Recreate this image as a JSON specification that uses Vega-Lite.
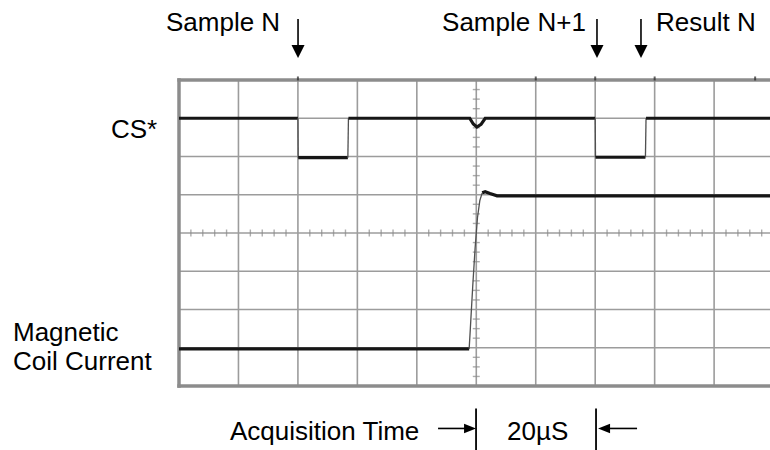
{
  "$schema": "https://vega.github.io/schema/vega-lite/v6.json",
  "width": 591,
  "height": 306,
  "autosize": {"type": "none"},
  "padding": {"left": 179, "top": 80, "right": 0, "bottom": 64},
  "background": "white",
  "config": {"view": {"stroke": null}, "text": {"font": "Liberation Sans"}, "axis": {"disable": true}},
  "datasets": {
    "trace": [
      {"signal": "CS*", "seg": "c1", "phase": "level", "t": 0, "v": 7.0},
      {"signal": "CS*", "seg": "c1", "phase": "level", "t": 20.0, "v": 7.0},
      {"signal": "CS*", "seg": "c2", "phase": "edge", "t": 20.0, "v": 7.0},
      {"signal": "CS*", "seg": "c2", "phase": "edge", "t": 20.05, "v": 5.97},
      {"signal": "CS*", "seg": "c3", "phase": "level", "t": 20.05, "v": 5.97},
      {"signal": "CS*", "seg": "c3", "phase": "level", "t": 28.4, "v": 5.97},
      {"signal": "CS*", "seg": "c4", "phase": "edge", "t": 28.4, "v": 5.97},
      {"signal": "CS*", "seg": "c4", "phase": "edge", "t": 28.5, "v": 7.0},
      {"signal": "CS*", "seg": "c5", "phase": "level", "t": 28.5, "v": 7.0},
      {"signal": "CS*", "seg": "c5", "phase": "level", "t": 48.9, "v": 7.0},
      {"signal": "CS*", "seg": "c5", "phase": "level", "t": 49.5, "v": 6.85},
      {"signal": "CS*", "seg": "c5", "phase": "level", "t": 50.1, "v": 6.77},
      {"signal": "CS*", "seg": "c5", "phase": "level", "t": 50.8, "v": 6.84},
      {"signal": "CS*", "seg": "c5", "phase": "level", "t": 51.5, "v": 7.0},
      {"signal": "CS*", "seg": "c5", "phase": "level", "t": 70.0, "v": 7.0},
      {"signal": "CS*", "seg": "c6", "phase": "edge", "t": 70.0, "v": 7.0},
      {"signal": "CS*", "seg": "c6", "phase": "edge", "t": 70.05, "v": 5.98},
      {"signal": "CS*", "seg": "c7", "phase": "level", "t": 70.05, "v": 5.98},
      {"signal": "CS*", "seg": "c7", "phase": "level", "t": 78.45, "v": 5.98},
      {"signal": "CS*", "seg": "c8", "phase": "edge", "t": 78.45, "v": 5.98},
      {"signal": "CS*", "seg": "c8", "phase": "edge", "t": 78.55, "v": 7.0},
      {"signal": "CS*", "seg": "c9", "phase": "level", "t": 78.55, "v": 7.0},
      {"signal": "CS*", "seg": "c9", "phase": "level", "t": 99.4, "v": 7.0},
      {"signal": "Coil", "seg": "m1", "phase": "level", "t": 0, "v": 0.97},
      {"signal": "Coil", "seg": "m1", "phase": "level", "t": 48.8, "v": 0.97},
      {"signal": "Coil", "seg": "m2", "phase": "edge", "t": 48.8, "v": 0.97},
      {"signal": "Coil", "seg": "m2", "phase": "edge", "t": 49.0, "v": 1.5},
      {"signal": "Coil", "seg": "m2", "phase": "edge", "t": 49.4, "v": 2.6},
      {"signal": "Coil", "seg": "m2", "phase": "edge", "t": 49.8, "v": 3.6},
      {"signal": "Coil", "seg": "m2", "phase": "edge", "t": 50.2, "v": 4.4},
      {"signal": "Coil", "seg": "m2", "phase": "edge", "t": 50.6, "v": 4.85},
      {"signal": "Coil", "seg": "m2", "phase": "edge", "t": 51.0, "v": 5.05},
      {"signal": "Coil", "seg": "m3", "phase": "level", "t": 51.0, "v": 5.05},
      {"signal": "Coil", "seg": "m3", "phase": "level", "t": 51.5, "v": 5.08},
      {"signal": "Coil", "seg": "m3", "phase": "level", "t": 52.3, "v": 5.03},
      {"signal": "Coil", "seg": "m3", "phase": "level", "t": 53.5, "v": 4.97},
      {"signal": "Coil", "seg": "m3", "phase": "level", "t": 99.4, "v": 4.97}
    ],
    "labels": [
      {"label": "Sample N", "t": -2.19, "v": 9.28},
      {"label": "Sample N+1", "t": 44.24, "v": 9.28},
      {"label": "Result N", "t": 80.24, "v": 9.28},
      {"label": "CS*", "t": -11.44, "v": 6.48},
      {"label": "Magnetic", "t": -27.92, "v": 1.17},
      {"label": "Coil Current", "t": -27.92, "v": 0.41},
      {"label": "Acquisition Time", "t": 8.58, "v": -1.424},
      {"label": "20µS", "t": 55.17, "v": -1.424}
    ],
    "vgrid": [{"t": 10}, {"t": 20}, {"t": 30}, {"t": 40}, {"t": 50}, {"t": 60}, {"t": 70}, {"t": 80}, {"t": 90}],
    "hgrid": [{"v": 1}, {"v": 2}, {"v": 3}, {"v": 4}, {"v": 5}, {"v": 6}, {"v": 7}],
    "xticks": [
      {"t": 2}, {"t": 4}, {"t": 6}, {"t": 8}, {"t": 12}, {"t": 14}, {"t": 16}, {"t": 18},
      {"t": 22}, {"t": 24}, {"t": 26}, {"t": 28}, {"t": 32}, {"t": 34}, {"t": 36}, {"t": 38},
      {"t": 42}, {"t": 44}, {"t": 46}, {"t": 48}, {"t": 52}, {"t": 54}, {"t": 56}, {"t": 58},
      {"t": 62}, {"t": 64}, {"t": 66}, {"t": 68}, {"t": 72}, {"t": 74}, {"t": 76}, {"t": 78},
      {"t": 82}, {"t": 84}, {"t": 86}, {"t": 88}, {"t": 92}, {"t": 94}, {"t": 96}, {"t": 98}
    ],
    "yticks": [
      {"v": 0.25}, {"v": 0.5}, {"v": 0.75}, {"v": 1.25}, {"v": 1.5}, {"v": 1.75},
      {"v": 2.25}, {"v": 2.5}, {"v": 2.75}, {"v": 3.25}, {"v": 3.5}, {"v": 3.75},
      {"v": 4.25}, {"v": 4.5}, {"v": 4.75}, {"v": 5.25}, {"v": 5.5}, {"v": 5.75},
      {"v": 6.25}, {"v": 6.5}, {"v": 6.75}, {"v": 7.25}, {"v": 7.5}, {"v": 7.75}
    ],
    "frameH": [{"side": "top", "v": 8}, {"side": "bottom", "v": 0}],
    "topmarks": [{"t": 20.0}, {"t": 60.0}, {"t": 70.0}, {"t": 80.0}, {"t": 96.9}],
    "downarrows": [{"name": "Sample N", "t": 20.02}, {"name": "Sample N+1", "t": 70.3}, {"name": "Result N", "t": 77.7}],
    "bars": [{"t": 49.96}, {"t": 70.14}],
    "hshafts": [{"dir": "right", "t": 43.57, "t2": 48.3, "v": -1.11}, {"dir": "left", "t": 72.1, "t2": 77.04, "v": -1.11}],
    "rightHead": [{"t": 48.95, "v": -1.11}],
    "leftHead": [{"t": 71.49, "v": -1.11}]
  },
  "resolve": {"scale": {"x": "shared", "y": "shared"}},
  "layer": [
    {
      "data": {"name": "vgrid"},
      "mark": {"type": "rule", "color": "#9c9c9c", "strokeWidth": 1.6},
      "encoding": {
        "x": {"field": "t", "type": "quantitative", "scale": {"domain": [0, 99.4], "nice": false, "zero": false}},
        "y": {"datum": 0, "scale": {"domain": [0, 8], "nice": false, "zero": false}},
        "y2": {"datum": 8}
      }
    },
    {
      "data": {"name": "hgrid"},
      "mark": {"type": "rule", "color": "#9c9c9c", "strokeWidth": 1.6},
      "encoding": {
        "y": {"field": "v", "type": "quantitative"},
        "x": {"datum": 0},
        "x2": {"datum": 99.4}
      }
    },
    {
      "data": {"name": "xticks"},
      "mark": {"type": "tick", "orient": "vertical", "size": 7, "thickness": 1.4, "color": "#8a8a8a"},
      "encoding": {"x": {"field": "t", "type": "quantitative"}, "y": {"datum": 4}}
    },
    {
      "data": {"name": "yticks"},
      "mark": {"type": "tick", "orient": "horizontal", "size": 7, "thickness": 1.4, "color": "#8a8a8a"},
      "encoding": {"y": {"field": "v", "type": "quantitative"}, "x": {"datum": 50}}
    },
    {
      "data": {"name": "frameH"},
      "mark": {"type": "rule", "color": "#8c8c8c", "strokeWidth": 3.5},
      "encoding": {"x": {"datum": -0.28}, "x2": {"datum": 99.4}, "y": {"field": "v", "type": "quantitative"}}
    },
    {
      "data": {"values": [{"side": "left", "t": 0}]},
      "mark": {"type": "rule", "color": "#8c8c8c", "strokeWidth": 3.5},
      "encoding": {"x": {"field": "t", "type": "quantitative"}, "y": {"datum": -0.045}, "y2": {"datum": 8.045}}
    },
    {
      "data": {"name": "trace"},
      "mark": {"type": "line", "strokeCap": "butt"},
      "encoding": {
        "x": {"field": "t", "type": "quantitative"},
        "y": {"field": "v", "type": "quantitative"},
        "detail": {"field": "seg"},
        "order": {"field": "t", "type": "quantitative"},
        "strokeWidth": {"field": "phase", "type": "nominal", "scale": {"domain": ["level", "edge"], "range": [3.2, 1.3]}, "legend": null},
        "color": {"field": "phase", "type": "nominal", "scale": {"domain": ["level", "edge"], "range": ["#161616", "#505050"]}, "legend": null}
      }
    },
    {
      "data": {"name": "topmarks"},
      "mark": {"type": "tick", "orient": "vertical", "size": 4, "thickness": 2, "color": "#222222"},
      "encoding": {"x": {"field": "t", "type": "quantitative"}, "y": {"datum": 8.04}}
    },
    {
      "data": {"name": "labels"},
      "mark": {"type": "text", "align": "left", "baseline": "alphabetic", "fontSize": 26, "color": "#000000"},
      "encoding": {"x": {"field": "t", "type": "quantitative"}, "y": {"field": "v", "type": "quantitative"}, "text": {"field": "label"}}
    },
    {
      "data": {"name": "downarrows"},
      "mark": {"type": "rule", "color": "#000000", "strokeWidth": 1.6},
      "encoding": {"x": {"field": "t", "type": "quantitative"}, "y": {"datum": 9.597}, "y2": {"datum": 8.85}}
    },
    {
      "data": {"name": "downarrows"},
      "mark": {"type": "point", "shape": "M-1,-1L1,-1L0,1Z", "size": 169, "filled": true, "color": "#000000", "opacity": 1},
      "encoding": {"x": {"field": "t", "type": "quantitative"}, "y": {"datum": 8.746}}
    },
    {
      "data": {"name": "bars"},
      "mark": {"type": "rule", "color": "#000000", "strokeWidth": 1.8},
      "encoding": {"x": {"field": "t", "type": "quantitative"}, "y": {"datum": -0.586}, "y2": {"datum": -1.686}}
    },
    {
      "data": {"name": "hshafts"},
      "mark": {"type": "rule", "color": "#000000", "strokeWidth": 1.6},
      "encoding": {"x": {"field": "t", "type": "quantitative"}, "x2": {"field": "t2"}, "y": {"field": "v", "type": "quantitative"}}
    },
    {
      "data": {"name": "rightHead"},
      "mark": {"type": "point", "shape": "M-1,-0.8L1,0L-1,0.8Z", "size": 144, "filled": true, "color": "#000000", "opacity": 1},
      "encoding": {"x": {"field": "t", "type": "quantitative"}, "y": {"field": "v", "type": "quantitative"}}
    },
    {
      "data": {"name": "leftHead"},
      "mark": {"type": "point", "shape": "M1,-0.8L-1,0L1,0.8Z", "size": 144, "filled": true, "color": "#000000", "opacity": 1},
      "encoding": {"x": {"field": "t", "type": "quantitative"}, "y": {"field": "v", "type": "quantitative"}}
    }
  ]
}
